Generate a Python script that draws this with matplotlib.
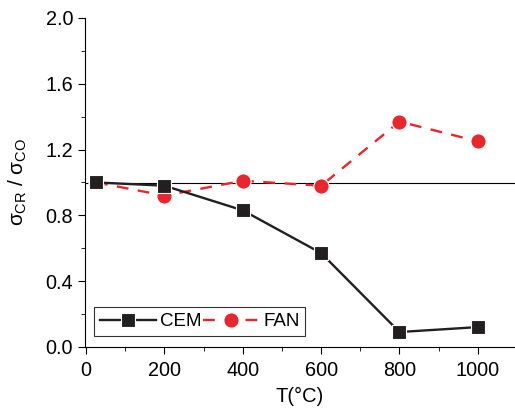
import matplotlib.pyplot as plt
from matplotlib.ticker import MultipleLocator

plt.rcParams['font.family'] = 'Liberation Sans'
plt.rcParams['mathtext.fontset'] = 'custom'
plt.rcParams['mathtext.rm'] = 'Liberation Sans'
plt.rcParams['mathtext.it'] = 'Liberation Sans'

temps = [25, 200, 400, 600, 800, 1000]
cem = [1.0, 0.98, 0.83, 0.57, 0.09, 0.12]
fan = [1.0, 0.92, 1.01, 0.98, 1.37, 1.25]
ref_level = 0.995

fig = plt.figure(figsize=(5.15, 4.09), dpi=100)
ax = fig.add_axes([0.165, 0.152, 0.835, 0.804])

ax.axhline(ref_level, color='black', lw=0.8, zorder=1)
ax.plot(temps, cem, color='#231f20', marker='s', ms=9.5, mec='white', mew=0.8,
        lw=1.7, label='CEM', zorder=3)
ax.plot(temps, fan, color='#e8262e', marker='o', ms=11, mec='white', mew=0.8,
        lw=1.7, ls=(0, (5, 4)), label='FAN', zorder=2)

ax.set_xlim(-3, 1095)
ax.set_ylim(0, 2.0)
ax.xaxis.set_major_locator(MultipleLocator(200))
ax.xaxis.set_minor_locator(MultipleLocator(100))
ax.yaxis.set_major_locator(MultipleLocator(0.4))
ax.yaxis.set_minor_locator(MultipleLocator(0.2))
ax.yaxis.set_major_formatter(plt.FormatStrFormatter('%.1f'))
ax.tick_params(which='both', direction='out', labelsize=14.3)
ax.tick_params(which='major', length=5)
ax.tick_params(which='minor', length=3)
ax.tick_params(axis='x', pad=5)
ax.spines['top'].set_visible(False)
ax.spines['right'].set_visible(False)

ax.set_xlabel('T(°C)', fontsize=14.5, labelpad=5)
ax.set_ylabel(r'$σ_{\rm CR}$ / $σ_{\rm CO}$', fontsize=15, labelpad=12)

leg = ax.legend(loc='lower left', ncol=2, fontsize=13.5, frameon=True, fancybox=False,
                edgecolor='black', handlelength=3.0, handletextpad=0.2, columnspacing=0.1,
                borderpad=0.3, bbox_to_anchor=(0.0, 0.005))
leg.get_frame().set_linewidth(0.8)

fig.savefig('out.png', dpi=100)
